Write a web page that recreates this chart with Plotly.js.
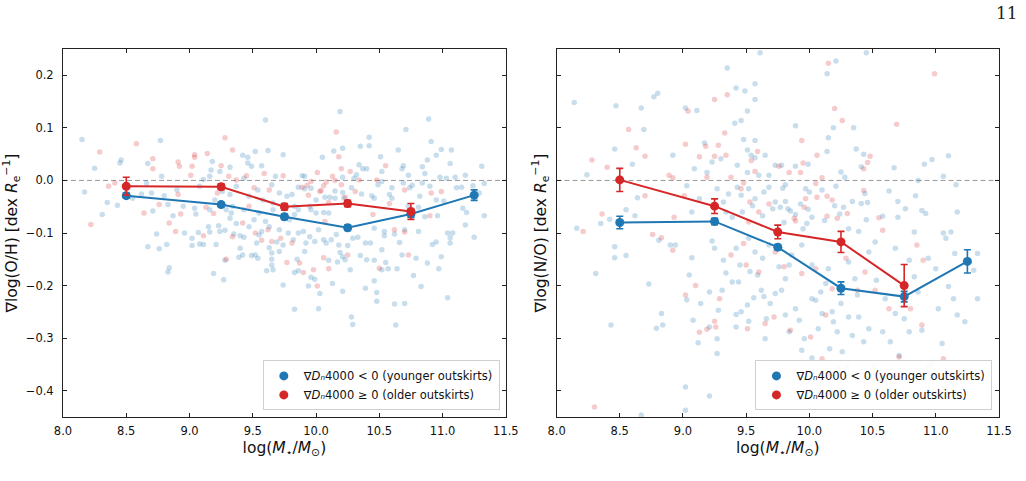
<!DOCTYPE html>
<html>
<head>
<meta charset="utf-8">
<script src="https://cdn.plot.ly/plotly-3.0.1.min.js"></script>
<style>html,body{margin:0;padding:0;background:#fff;}#chart{width:1026px;height:481px;}</style>
</head>
<body>
<div id="chart"></div>
<script>
// ---------- binned means (x = log stellar mass bin centres) ----------
var binsYounger = [8.5, 9.25, 9.75, 10.25, 10.75, 11.25];
var binsOlder   = [8.5, 9.25, 9.75, 10.25, 10.75];

var ohYoungerMean = [-0.029, -0.046, -0.069, -0.090, -0.064, -0.028];
var ohYoungerErr  = [0.005, 0.004, 0.005, 0.005, 0.006, 0.010];
var ohOlderMean   = [-0.011, -0.012, -0.050, -0.044, -0.059];
var ohOlderErr    = [0.017, 0.005, 0.006, 0.006, 0.015];

var noYoungerMean = [-0.080, -0.078, -0.127, -0.205, -0.221, -0.154];
var noYoungerErr  = [0.012, 0.006, 0.005, 0.012, 0.010, 0.022];
var noOlderMean   = [0.001, -0.049, -0.098, -0.117, -0.200];
var noOlderErr    = [0.022, 0.014, 0.013, 0.020, 0.040];

// ---------- individual galaxies [logM, gradient] ----------
var ohYoungerPts = [[8.15,0.078],[8.25,0.023],[8.17,-0.022],[8.46,0.039],[8.45,0.033],[8.77,0.076],[8.67,0.032],[8.78,0.008],[8.35,-0.042],[8.43,-0.047],[8.55,-0.034],[8.62,-0.026],[8.66,-0.005],[8.70,-0.024],[8.80,-0.029],[8.83,-0.046],[8.90,-0.018],[8.95,-0.049],[9.04,-0.053],[9.08,-0.011],[9.18,0.036],[9.17,0.020],[9.24,0.017],[9.32,0.025],[9.42,0.048],[9.46,0.044],[9.46,0.033],[9.49,0.027],[9.52,0.055],[9.57,0.028],[9.60,0.115],[9.62,0.057],[9.74,0.049],[9.68,0.008],[9.65,-0.008],[9.54,-0.018],[9.37,-0.011],[9.32,-0.027],[9.26,-0.021],[9.20,-0.037],[9.16,0.008],[9.11,0.002],[9.47,-0.030],[9.58,-0.037],[9.66,-0.043],[9.71,-0.024],[9.43,0.004],[9.34,-0.049],
[8.71,-0.058],[8.31,-0.065],[8.87,-0.067],[9.05,-0.064],[8.74,-0.102],[8.67,-0.126],[8.76,-0.130],[8.82,-0.122],[8.84,-0.166],[8.83,-0.174],[8.96,-0.100],[9.02,-0.110],[9.02,-0.124],[9.07,-0.099],[9.08,-0.121],[9.11,-0.122],[9.15,-0.088],[9.16,-0.098],[9.21,-0.122],[9.19,-0.177],[9.23,-0.086],[9.24,-0.097],[9.28,-0.095],[9.28,-0.152],[9.27,-0.189],[9.32,-0.072],[9.35,-0.102],[9.37,-0.082],[9.40,-0.105],[9.40,-0.129],[9.39,-0.146],[9.42,-0.142],[9.43,-0.108],[9.47,-0.088],[9.49,-0.143],[9.52,-0.142],[9.54,-0.148],[9.53,-0.119],[9.55,-0.104],[9.57,-0.097],[9.60,-0.078],[9.61,-0.172],[9.63,-0.128],[9.65,-0.138],[9.65,-0.150],[9.65,-0.161],[9.66,-0.170],[9.69,-0.117],[9.71,-0.135],[9.74,-0.123],[9.74,-0.199],[9.16,-0.056],[9.29,-0.056],[9.43,-0.056],[9.66,-0.056],[9.33,-0.062],[9.55,-0.062],[9.51,-0.075],[9.63,-0.088],[9.71,-0.094],
[10.19,0.131],[10.89,0.117],[10.71,0.097],[10.42,0.082],[10.91,0.074],[10.35,0.065],[10.42,0.066],[10.21,0.061],[10.14,0.056],[10.05,0.044],[10.65,0.058],[10.99,0.059],[11.07,0.058],[10.95,0.048],[10.51,0.045],[11.06,0.032],[11.31,0.027],[10.88,0.039],[10.84,0.026],[10.69,0.028],[10.68,0.022],[10.34,0.030],[10.37,0.022],[10.40,0.022],[10.52,0.017],[10.32,0.011],[10.73,0.010],[10.86,0.013],[10.98,0.006],[11.03,0.004],[11.10,0.006],[11.18,0.010],[9.89,0.009],[9.91,0.008],[10.21,0.006],[10.30,0.004],[10.52,-0.002],[10.49,-0.008],[10.60,-0.014],[10.69,-0.005],[10.76,-0.009],[10.74,-0.014],[10.84,-0.005],[10.90,-0.011],[10.82,-0.030],[10.95,-0.037],[11.01,-0.039],[11.11,-0.014],[11.15,-0.013],[11.24,-0.010],[11.33,-0.006],[11.29,-0.024],[11.16,-0.053],[9.77,-0.030],[9.81,-0.027],[9.86,-0.013],[9.91,-0.016],[9.96,-0.015],[10.00,-0.037],[10.07,-0.032],[10.11,-0.032],[10.15,-0.020],[10.15,-0.034],[10.21,-0.023],[10.22,-0.034],[10.28,-0.014],[10.36,-0.026],[10.44,-0.029],[10.46,-0.034],[10.58,-0.027],[10.60,-0.034],[10.73,-0.049],[10.81,-0.051],[9.83,-0.049],[9.95,-0.049],
[9.77,-0.069],[9.79,-0.075],[9.83,-0.065],[9.86,-0.056],[9.96,-0.056],[10.00,-0.062],[10.06,-0.061],[10.10,-0.062],[9.78,-0.100],[9.82,-0.113],[9.86,-0.100],[9.90,-0.097],[9.92,-0.119],[9.95,-0.107],[9.99,-0.116],[10.02,-0.094],[10.06,-0.113],[10.08,-0.119],[10.12,-0.113],[10.16,-0.103],[10.18,-0.123],[10.19,-0.137],[10.21,-0.145],[10.23,-0.151],[10.25,-0.124],[10.27,-0.170],[10.29,-0.110],[10.33,-0.108],[10.39,-0.119],[10.40,-0.151],[10.39,-0.205],[10.43,-0.119],[10.46,-0.191],[10.46,-0.152],[10.48,-0.213],[10.48,-0.230],[10.52,-0.132],[10.54,-0.105],[10.55,-0.156],[10.57,-0.168],[10.62,-0.235],[10.63,-0.275],[10.64,-0.168],[10.66,-0.118],[10.68,-0.142],[10.70,-0.234],[10.77,-0.181],[10.79,-0.148],[10.83,-0.202],[10.88,-0.157],[10.92,-0.122],[10.95,-0.117],[10.97,-0.168],[10.99,-0.145],[11.04,-0.223],[11.06,-0.119],[11.06,-0.109],[11.08,-0.100],[11.04,-0.100],[11.18,-0.085],[11.25,-0.108],[11.33,-0.067],[11.19,-0.061],[10.96,-0.067],[10.86,-0.069],[10.81,-0.097],[10.70,-0.094],[10.62,-0.102],[10.54,-0.097],[10.46,-0.091],[10.02,-0.244],[10.28,-0.260],[10.29,-0.274],[9.83,-0.245],[9.83,-0.175],[9.86,-0.172],[9.96,-0.184],[9.99,-0.188],[9.94,-0.201],[10.21,-0.211],[10.13,-0.196],[10.03,-0.215],[9.85,-0.150],[9.91,-0.135],[10.10,-0.152],[10.17,-0.155],[10.35,-0.143],[10.52,-0.170]];

var ohOlderPts = [[8.29,0.054],[8.58,0.070],[8.71,0.041],[8.71,0.022],[8.41,-0.005],[8.36,-0.011],[8.91,0.035],[8.92,0.027],[9.04,0.049],[9.04,0.044],[9.02,0.027],[9.14,0.051],[9.01,0.010],[9.28,0.081],[9.34,0.058],[9.25,0.028],[9.31,0.008],[9.45,0.009],[9.37,0.001],[9.59,0.013],[8.76,-0.046],[8.91,-0.027],[9.22,-0.024],[9.51,-0.014],[9.63,-0.018],[9.74,0.009],
[8.22,-0.084],[8.64,-0.062],[8.93,-0.064],[8.84,-0.081],[8.89,-0.097],[9.11,-0.105],[9.19,-0.063],[9.13,-0.051],[9.29,-0.150],[9.34,-0.107],[9.42,-0.081],[9.52,-0.100],[9.57,-0.114],[9.62,-0.094],[9.65,-0.116],[9.72,-0.110],[9.47,-0.049],
[10.16,0.092],[10.18,0.045],[10.20,0.022],[10.27,0.017],[10.01,0.015],[10.13,0.008],[10.15,0.000],[10.08,-0.003],[10.06,-0.010],[10.04,-0.019],[9.96,-0.002],[9.93,-0.009],[9.94,-0.028],[9.89,-0.013],[10.03,-0.021],[10.20,-0.008],[10.31,-0.021],[10.23,-0.032],[10.34,0.001],[10.48,0.001],[10.55,0.028],[10.70,-0.018],[10.91,-0.024],[10.99,-0.021],[10.58,-0.044],[10.10,-0.042],
[9.77,-0.156],[9.87,-0.157],[9.90,-0.175],[9.98,-0.170],[10.10,-0.168],[10.06,-0.147],[10.01,-0.201],[10.25,-0.142],[10.50,-0.167],[10.73,-0.142],[10.62,-0.094],[10.70,-0.098],[10.90,-0.067],[9.81,-0.119],[10.07,-0.078],[10.45,-0.065]];

var noYoungerPts = [[8.14,0.148],[8.47,0.142],[8.67,0.138],[8.77,0.159],[8.80,0.166],[8.69,0.097],[8.46,0.060],[8.60,0.031],[8.92,0.048],[8.24,0.011],[8.55,-0.056],[8.62,-0.067],[8.35,-0.082],[8.42,-0.074],[8.16,-0.091],[8.64,-0.033],[9.02,0.138],[9.11,0.133],[9.17,0.071],[9.23,0.035],[9.30,0.041],[9.35,0.214],[9.42,0.176],[9.49,0.170],[9.51,0.132],[9.46,0.114],[9.41,0.109],[9.57,0.184],[9.57,0.154],[9.61,0.243],[9.48,0.078],[9.57,0.076],[9.51,0.058],[9.54,0.048],[9.57,0.043],[9.65,0.048],[9.43,0.029],[9.51,0.015],[9.60,0.010],[9.09,0.022],[9.19,0.015],[9.03,-0.010],[9.13,-0.035],[9.32,-0.041],[9.36,-0.026],[9.43,-0.013],[9.46,-0.028],[9.52,-0.016],[9.57,-0.035],[9.64,-0.022],[9.68,-0.013],[9.73,-0.041],[9.34,-0.060],[9.39,-0.070],[9.47,-0.060],[9.55,-0.048],[9.63,-0.067],[9.71,-0.054],[9.73,0.029],[9.07,-0.060],[9.27,-0.016],[9.68,0.010],
[10.45,0.243],[10.21,0.227],[10.14,0.203],[9.89,0.104],[10.19,0.100],[10.35,0.100],[10.15,0.081],[10.37,0.060],[10.14,0.055],[10.43,0.050],[9.99,0.031],[9.89,0.027],[9.78,0.029],[10.41,0.026],[10.67,0.024],[10.91,0.031],[10.97,0.040],[11.10,0.047],[11.06,0.008],[10.25,0.016],[10.28,0.006],[10.86,0.000],[11.16,-0.008],[9.79,-0.015],[9.81,-0.008],[9.97,-0.016],[10.00,-0.022],[10.10,-0.018],[10.21,-0.011],[10.44,-0.025],[10.63,-0.020],[10.84,-0.029],[9.77,-0.051],[9.81,-0.040],[9.83,-0.054],[9.85,-0.058],[9.89,-0.065],[9.93,-0.045],[9.99,-0.055],[10.02,-0.070],[10.12,-0.076],[10.20,-0.048],[10.24,-0.064],[10.27,-0.051],[10.34,-0.040],[10.41,-0.044],[10.46,-0.042],[10.45,-0.075],[10.58,-0.068],[10.70,-0.070],[10.70,-0.040],[10.76,-0.054],[10.89,-0.057],[10.92,-0.063],[11.17,-0.060],[10.83,-0.098],[11.06,-0.100],[11.12,-0.098],[10.39,-0.097],[10.31,-0.092],[9.95,-0.092],[9.80,-0.080],[9.98,-0.082],
[8.31,-0.177],[8.46,-0.126],[8.46,-0.147],[8.55,-0.143],[8.73,-0.197],[8.79,-0.281],[8.83,-0.253],[8.84,-0.275],[8.43,-0.275],[8.90,-0.123],[8.94,-0.123],[8.81,-0.114],[9.05,-0.180],[9.03,-0.227],[9.07,-0.147],[9.14,-0.234],[9.08,-0.266],[9.12,-0.309],[9.21,-0.212],[9.21,-0.279],[9.23,-0.115],[9.25,-0.129],[9.28,-0.247],[9.27,-0.301],[9.27,-0.329],[9.31,-0.209],[9.32,-0.152],[9.34,-0.176],[9.39,-0.193],[9.42,-0.255],[9.42,-0.279],[9.44,-0.193],[9.46,-0.250],[9.45,-0.161],[9.51,-0.237],[9.52,-0.268],[9.53,-0.173],[9.56,-0.223],[9.59,-0.180],[9.62,-0.209],[9.64,-0.221],[9.65,-0.301],[9.66,-0.263],[9.69,-0.234],[9.73,-0.215],[9.76,-0.164],[9.78,-0.209],[9.81,-0.187],[9.81,-0.256],[9.84,-0.288],[9.86,-0.142],[9.89,-0.244],[9.92,-0.266],[9.94,-0.323],[9.96,-0.301],[10.02,-0.338],[10.02,-0.225],[10.05,-0.228],[10.07,-0.282],[10.09,-0.212],[10.10,-0.253],[10.13,-0.196],[10.16,-0.320],[10.18,-0.250],[10.19,-0.269],[10.22,-0.288],[10.25,-0.234],[10.26,-0.326],[10.30,-0.352],[10.31,-0.260],[10.34,-0.295],[10.38,-0.218],[10.39,-0.260],[10.43,-0.307],[10.47,-0.282],[10.51,-0.352],[10.53,-0.190],[10.58,-0.288],[10.60,-0.225],[10.64,-0.307],[10.68,-0.253],[10.71,-0.333],[10.75,-0.263],[10.79,-0.288],[10.83,-0.183],[10.86,-0.212],[10.89,-0.285],[10.94,-0.352],[10.97,-0.348],[11.00,-0.168],[11.02,-0.244],[11.05,-0.310],[11.10,-0.202],[11.14,-0.225],[11.17,-0.256],[11.23,-0.269],[11.30,-0.171],[11.33,-0.225],[11.33,-0.139],[11.15,-0.139],[11.08,-0.110],[10.94,-0.148],[10.79,-0.152],[10.68,-0.129],[10.52,-0.117],[10.47,-0.136],[10.36,-0.187],[10.31,-0.155],[10.15,-0.168],[10.02,-0.161],[9.94,-0.123],[9.84,-0.161],[9.63,-0.148],[9.68,-0.123],[9.57,-0.136],[9.52,-0.110],[9.42,-0.129],[9.02,-0.393],[9.21,-0.410],[8.67,-0.446],[9.02,-0.437]];

var noOlderPts = [[8.28,0.039],[8.40,0.025],[8.57,0.097],[8.63,0.062],[8.70,0.046],[8.70,-0.029],[8.36,-0.064],[8.21,-0.097],[9.04,0.132],[9.02,0.069],[9.13,0.045],[9.18,0.065],[9.25,0.154],[9.35,0.163],[9.33,0.090],[9.28,0.067],[9.25,0.046],[9.34,0.048],[8.89,0.010],[8.92,0.005],[9.01,-0.029],[8.93,-0.070],[9.19,0.006],[9.38,0.006],[9.48,-0.005],[9.59,0.055],[9.54,0.038],[9.57,0.017],[9.53,-0.041],[9.60,-0.060],[9.52,-0.079],[9.68,-0.045],[9.46,-0.016],
[10.15,0.223],[10.99,0.203],[10.20,0.137],[10.26,0.114],[10.69,0.107],[9.94,0.076],[10.06,0.048],[10.48,0.046],[10.46,0.034],[10.43,0.022],[9.95,0.033],[9.76,0.027],[9.84,0.015],[9.93,0.015],[10.10,0.005],[10.05,-0.006],[10.06,-0.032],[10.14,-0.030],[10.18,-0.037],[10.43,-0.019],[9.97,-0.035],[9.96,-0.051],[9.88,-0.072],[9.89,-0.077],[10.14,-0.068],[10.22,-0.072],[10.30,-0.063],[10.55,-0.071],[10.58,-0.095],
[8.30,-0.431],[8.76,-0.103],[8.83,-0.109],[8.92,-0.133],[9.02,-0.218],[9.10,-0.200],[9.13,-0.289],[9.19,-0.283],[9.25,-0.268],[9.26,-0.279],[9.29,-0.225],[9.38,-0.142],[9.48,-0.120],[9.50,-0.161],[9.51,-0.282],[9.60,-0.174],[9.65,-0.272],[9.72,-0.260],[9.73,-0.136],[9.80,-0.164],[9.85,-0.285],[9.94,-0.177],[10.01,-0.298],[10.05,-0.168],[10.10,-0.339],[10.13,-0.256],[10.18,-0.206],[10.23,-0.358],[10.29,-0.148],[10.38,-0.209],[10.44,-0.174],[10.52,-0.209],[10.63,-0.244],[10.71,-0.336],[10.80,-0.244],[10.89,-0.275],[10.90,-0.152],[11.06,-0.339],[10.85,-0.123]];

var xTickVals = [8.0, 8.5, 9.0, 9.5, 10.0, 10.5, 11.0, 11.5];
var labelYounger = '∇<i>Dₙ</i>4000 &lt; 0 (younger outskirts)';
var labelOlder   = '∇<i>Dₙ</i>4000 ≥ 0 (older outskirts)';

// ---------- styling ----------
var BLUE = '#1f77b4', RED = '#d62728';
var FONT = 'DejaVu Sans, sans-serif';

function cloud(pts, color, xa, ya) {
  return {type: 'scatter', mode: 'markers', x: pts.map(function(p){return p[0];}),
    y: pts.map(function(p){return p[1];}), xaxis: xa, yaxis: ya, showlegend: false,
    hoverinfo: 'skip', marker: {color: color, size: 5.5, opacity: 0.24, line: {width: 0}}};
}
function meanLine(xs, ys, errs, color, xa, ya) {
  return {type: 'scatter', mode: 'lines+markers', x: xs, y: ys, xaxis: xa, yaxis: ya,
    showlegend: false, line: {color: color, width: 2}, marker: {color: color, size: 9},
    error_y: {type: 'data', array: errs, visible: true, color: color, thickness: 1.6, width: 3.5}};
}
function legendItem(name, color, xa, ya, leg) {
  return {type: 'scatter', mode: 'markers', x: [null], y: [null], xaxis: xa, yaxis: ya,
    name: name, legend: leg, showlegend: true, marker: {color: color, size: 9}};
}

var traces = [
  cloud(ohYoungerPts, BLUE, 'x', 'y'),
  cloud(ohOlderPts, RED, 'x', 'y'),
  cloud(noYoungerPts, BLUE, 'x2', 'y2'),
  cloud(noOlderPts, RED, 'x2', 'y2'),
  meanLine(binsYounger, ohYoungerMean, ohYoungerErr, BLUE, 'x', 'y'),
  meanLine(binsOlder, ohOlderMean, ohOlderErr, RED, 'x', 'y'),
  meanLine(binsYounger, noYoungerMean, noYoungerErr, BLUE, 'x2', 'y2'),
  meanLine(binsOlder, noOlderMean, noOlderErr, RED, 'x2', 'y2'),
  legendItem(labelYounger, BLUE, 'x', 'y', 'legend'),
  legendItem(labelOlder, RED, 'x', 'y', 'legend'),
  legendItem(labelYounger, BLUE, 'x2', 'y2', 'legend2'),
  legendItem(labelOlder, RED, 'x2', 'y2', 'legend2')
];

function xAxis(domain, anchor) {
  return {domain: domain, anchor: anchor, range: [8.0, 11.5], tickvals: xTickVals, tickformat: '.1f',
    ticks: 'inside', ticklen: 4, tickwidth: 1, tickcolor: '#222', showline: true, linecolor: '#222',
    linewidth: 1, mirror: 'ticks', showgrid: false, zeroline: false, ticklabelstandoff: 3,
    tickfont: {size: 11.5, color: '#111'},
    title: {text: 'log(<i>M</i><sub>⋆</sub>/<i>M</i><sub>⊙</sub>)', font: {size: 15.5, color: '#111'}, standoff: 5},
    automargin: false};
}
function yAxis(anchor, labels, titleText, standoff) {
  return {anchor: anchor, domain: [0, 1], range: [-0.45, 0.25], tick0: 0, dtick: 0.1, tickformat: '.1f',
    ticks: 'inside', ticklen: 4, tickwidth: 1, tickcolor: '#222', showline: true, linecolor: '#222',
    linewidth: 1, mirror: 'ticks', showgrid: false, zeroline: false, showticklabels: labels,
    ticklabelstandoff: 6, tickfont: {size: 11.5, color: '#111'},
    title: {text: titleText, font: {size: 15.5, color: '#111'}, standoff: standoff}, automargin: false};
}

var legendBase = {yanchor: 'bottom', xanchor: 'right', bgcolor: 'rgba(255,255,255,0.9)',
  bordercolor: '#d0d0d0', borderwidth: 1, font: {family: FONT, size: 11.5, color: '#111'},
  tracegroupgap: 0, itemwidth: 30};

var layout = {
  width: 1026, height: 481,
  margin: {l: 63, r: 26.7, t: 49.3, b: 64.3, pad: 0},
  paper_bgcolor: '#fff', plot_bgcolor: '#fff',
  font: {family: FONT, color: '#111'},
  xaxis: xAxis([0, 0.4731], 'y'),
  xaxis2: xAxis([0.5273, 1], 'y2'),
  yaxis: yAxis('x', true, '∇log(O/H) [dex <i>R</i><sub>e</sub><sup>−1</sup>]', 9),
  yaxis2: yAxis('x2', false, '∇log(N/O) [dex <i>R</i><sub>e</sub><sup>−1</sup>]', 5),
  legend: Object.assign({x: 0.4667, y: 0.018}, legendBase),
  legend2: Object.assign({x: 0.993, y: 0.018}, legendBase),
  shapes: [
    {type: 'line', xref: 'x domain', yref: 'y', x0: 0, x1: 1, y0: 0, y1: 0, layer: 'below',
     line: {color: '#999999', width: 1, dash: '5px,3px'}},
    {type: 'line', xref: 'x2 domain', yref: 'y2', x0: 0, x1: 1, y0: 0, y1: 0, layer: 'below',
     line: {color: '#999999', width: 1, dash: '5px,3px'}}
  ],
  annotations: [
    {text: '11', xref: 'paper', yref: 'paper', x: 1.0221, y: 1.097, xanchor: 'right', yanchor: 'middle',
     showarrow: false, font: {family: 'DejaVu Serif, Liberation Serif, serif', size: 17, color: '#222'}}
  ],
  showlegend: true
};

Plotly.newPlot('chart', traces, layout, {displayModeBar: false, staticPlot: true});
</script>
</body>
</html>
